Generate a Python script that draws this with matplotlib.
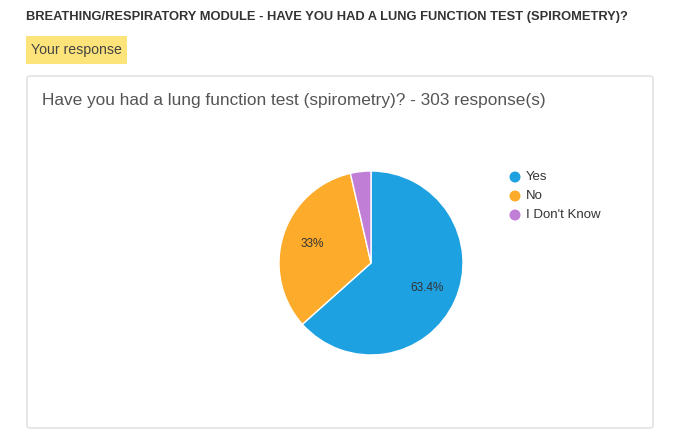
import matplotlib
matplotlib.use("Agg")
import matplotlib.pyplot as plt
from matplotlib.patches import FancyBboxPatch, Rectangle, Ellipse
import numpy as np

categories = ["Yes", "No", "I Don't Know"]
values = [63.4, 33.0, 3.6]
colors = ["#1ea1e1", "#fdab2b", "#c17ed6"]

plt.rcParams['font.family'] = ['Liberation Sans', 'DejaVu Sans']
W, H = 677, 445
fig = plt.figure(figsize=(W/100, H/100), dpi=100)

def fx(x): return x / W
def fy(y): return 1 - y / H

fig.text(fx(26), fy(17), "BREATHING/RESPIRATORY MODULE - HAVE YOU HAD A LUNG FUNCTION TEST (SPIROMETRY)?",
         fontsize=9.3, fontweight='bold', color='#333333', va='center', ha='left')
fig.patches.append(Rectangle((fx(26), fy(64)), fx(101), 28/H, transform=fig.transFigure,
                             facecolor='#fde47a', edgecolor='none', zorder=-5))
fig.text(fx(31), fy(50), "Your response", fontsize=10.2, color='#444444', va='center', ha='left')
fig.patches.append(FancyBboxPatch((fx(27), fy(428)), fx(626), 352/H, transform=fig.transFigure,
                                  boxstyle="round,pad=0,rounding_size=0.005",
                                  facecolor='white', edgecolor='#dddddd', linewidth=1, zorder=-5))
fig.text(fx(42), fy(101), "Have you had a lung function test (spirometry)? - 303 response(s)",
         fontsize=12.4, color='#555555', va='center', ha='left')

cx, cy, r = 371, 263, 92
ax = fig.add_axes([fx(cx - r), fy(cy + r), 2*r/W, 2*r/H])
ax.set_zorder(5)
ax.patch.set_alpha(0)
wedges, _ = ax.pie(values, colors=colors, startangle=90, counterclock=False,
                   wedgeprops=dict(edgecolor='white', linewidth=1))
ax.set_xlim(-1, 1); ax.set_ylim(-1, 1)
for w, v in zip(wedges, values):
    if v > 5:
        a = np.deg2rad((w.theta1 + w.theta2) / 2)
        ax.text(0.67*np.cos(a), 0.67*np.sin(a), f"{v:g}%", ha='center', va='center',
                fontsize=8.5, color='#333333')

for i, (c, col) in enumerate(zip(categories, colors)):
    y = 177 + 19*i
    fig.patches.append(Ellipse((fx(515), fy(y)), 11/W, 11/H, transform=fig.transFigure,
                               facecolor=col, edgecolor='none', zorder=3))
    fig.text(fx(526), fy(y), c, fontsize=9.5, color='#333333', va='center', ha='left')

fig.savefig("out.png", dpi=100)
